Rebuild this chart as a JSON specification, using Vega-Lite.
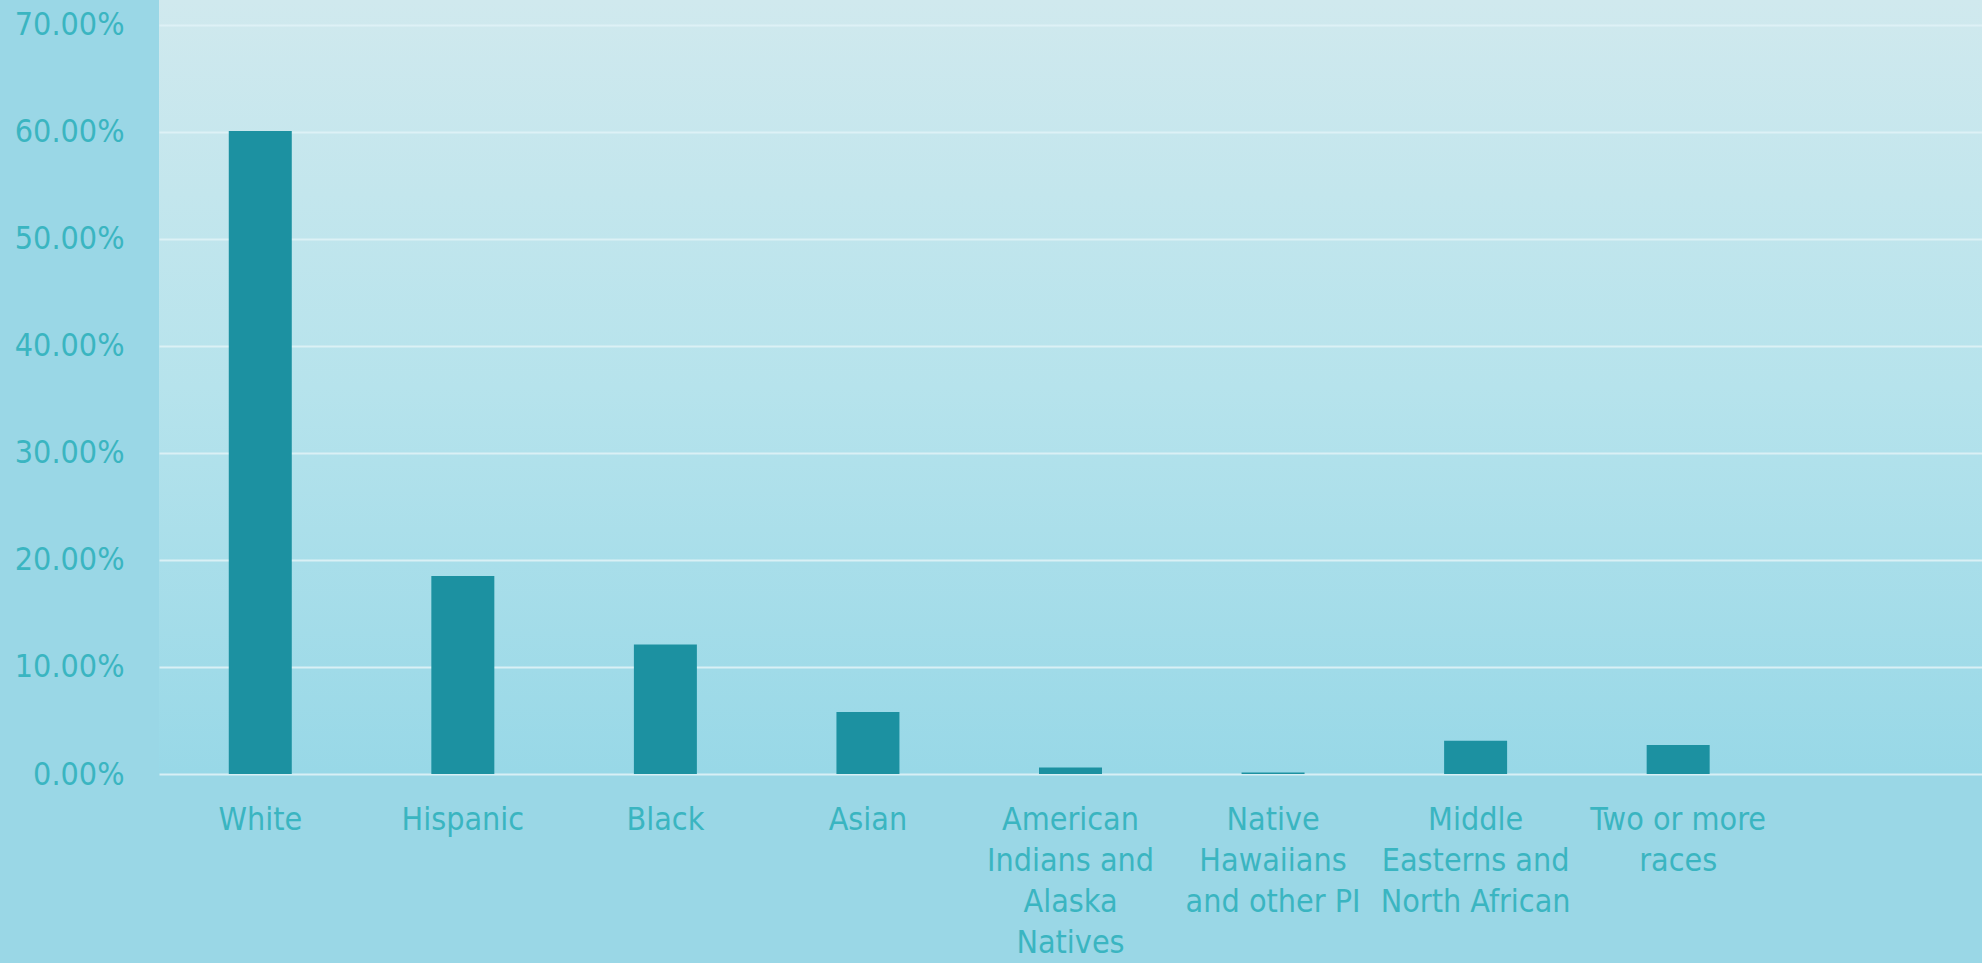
{
  "$schema": "https://vega.github.io/schema/vega-lite/v6.json",
  "autosize": {"type": "none"},
  "width": 1823,
  "height": 774,
  "padding": {"left": 159, "top": 0, "right": 0, "bottom": 189},
  "background": "#9ad7e6",
  "config": {
    "view": {
      "stroke": null,
      "fill": {
        "gradient": "linear",
        "x1": 0, "y1": 0, "x2": 0, "y2": 1,
        "stops": [
          {"offset": 0, "color": "#d0e9ee"},
          {"offset": 0.5, "color": "#b6e3ec"},
          {"offset": 1, "color": "#98d8e7"}
        ]
      }
    },
    "font": "DejaVu Sans Condensed, sans-serif"
  },
  "data": {
    "values": [
      {"group": "White", "share": 0.601},
      {"group": "Hispanic", "share": 0.185},
      {"group": "Black", "share": 0.121},
      {"group": "Asian", "share": 0.058},
      {"group": "American Indians and Alaska Natives", "share": 0.006},
      {"group": "Native Hawaiians and other PI", "share": 0.0015},
      {"group": "Middle Easterns and North African", "share": 0.031},
      {"group": "Two or more races", "share": 0.027}
    ]
  },
  "mark": {"type": "bar", "color": "#1c91a1"},
  "encoding": {
    "x": {
      "field": "group",
      "type": "nominal",
      "sort": null,
      "scale": {
        "domain": ["White", "Hispanic", "Black", "Asian", "American Indians and Alaska Natives", "Native Hawaiians and other PI", "Middle Easterns and North African", "Two or more races", " "],
        "paddingInner": 0.689,
        "paddingOuter": 0.3445
      },
      "axis": {
        "title": null,
        "labelAngle": 0,
        "ticks": false,
        "domain": false,
        "grid": false,
        "labelPadding": 30,
        "labelBaseline": "top",
        "labelFontSize": 32,
        "labelColor": "#3ab5c1",
        "labelLineHeight": 41,
        "labelLimit": 400,
        "labelOverlap": false,
        "labelExpr": "datum.value == 'American Indians and Alaska Natives' ? ['American', 'Indians and', 'Alaska', 'Natives'] : datum.value == 'Native Hawaiians and other PI' ? ['Native', 'Hawaiians', 'and other PI'] : datum.value == 'Middle Easterns and North African' ? ['Middle', 'Easterns and', 'North African'] : datum.value == 'Two or more races' ? ['Two or more', 'races'] : datum.label"
      }
    },
    "y": {
      "field": "share",
      "type": "quantitative",
      "scale": {"domain": [0, 0.72336], "nice": false},
      "axis": {
        "title": null,
        "values": [0, 0.1, 0.2, 0.3, 0.4, 0.5, 0.6, 0.7],
        "format": ".2%",
        "ticks": false,
        "domain": false,
        "grid": true,
        "gridColor": "#dff2f6",
        "gridWidth": 2,
        "gridOpacity": 0.9,
        "labelPadding": 35,
        "labelFontSize": 32,
        "labelColor": "#3ab5c1"
      }
    }
  }
}
